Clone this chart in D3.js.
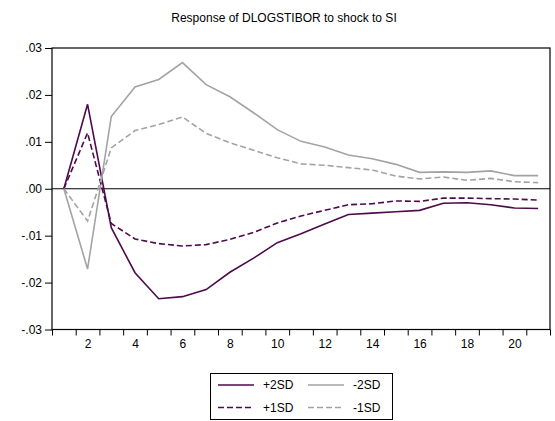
<!DOCTYPE html>
<html>
<head>
<meta charset="utf-8">
<script src="https://cdn.jsdelivr.net/npm/d3@7"></script>
<style>
  html, body { margin: 0; padding: 0; background: #fff; }
  svg { display: block; font-family: "Liberation Sans", Arial, sans-serif; }
</style>
</head>
<body>
<svg id="chart" width="555" height="421"></svg>
<script>
// Impulse response of DLOGSTIBOR to a shock to SI, with ±1 and ±2 SD bands
const periods = d3.range(1, 22);
const plus2SD = [0, 0.0180, -0.0083, -0.0179, -0.02345, -0.0230, -0.0215, -0.0178, -0.0148, -0.0115,
  -0.0096, -0.0075, -0.0055, -0.0052, -0.0049, -0.0046, -0.0031, -0.0030, -0.0034, -0.0041, -0.0042];
const plus1SD = [0, 0.0119, -0.0074, -0.0107, -0.0117, -0.0122, -0.0119, -0.0108, -0.0093, -0.0073,
  -0.0058, -0.0046, -0.0034, -0.0032, -0.0026, -0.0027, -0.0020, -0.0020, -0.0021, -0.0022, -0.0024];
const minus2SD = [0, -0.0171, 0.0154, 0.0217, 0.0233, 0.0269, 0.0222, 0.0196, 0.0162, 0.0126,
  0.0101, 0.0089, 0.0072, 0.0064, 0.0052, 0.0035, 0.0036, 0.0035, 0.0038, 0.0028, 0.0028];
const minus1SD = [0, -0.0069, 0.0087, 0.0124, 0.0137, 0.0153, 0.0118, 0.0098, 0.0082, 0.0066,
  0.0053, 0.0050, 0.0045, 0.0040, 0.0027, 0.0021, 0.0025, 0.0018, 0.0022, 0.0015, 0.0013];
const yTicks = [0.03, 0.02, 0.01, 0.00, -0.01, -0.02, -0.03];
const yTickLabels = [".03", ".02", ".01", ".00", "-.01", "-.02", "-.03"];
const xTickLabels = [2, 4, 6, 8, 10, 12, 14, 16, 18, 20];

const series = [
  { name: "+2SD", values: plus2SD, color: "#4d0a4d", dash: null },
  { name: "-2SD", values: minus2SD, color: "#a3a3a3", dash: null },
  { name: "+1SD", values: plus1SD, color: "#4d0a4d", dash: "6,3" },
  { name: "-1SD", values: minus1SD, color: "#a3a3a3", dash: "6,3" }
];

const svg = d3.select("#chart");
const plotLeft = 52, plotRight = 550, plotTop = 48, plotBottom = 329.5;
const fontFamily = "Liberation Sans, Arial, sans-serif";

const x = d3.scaleLinear().domain([0.5, 21.5]).range([plotLeft, plotRight]);
const y = d3.scaleLinear().domain([-0.03, 0.03]).range([plotBottom, plotTop]);

// title
svg.append("text")
  .attr("x", 284).attr("y", 22)
  .attr("text-anchor", "middle")
  .attr("font-size", 12)
  .text("Response of DLOGSTIBOR to shock to SI");

// y axis
const yAxis = d3.axisLeft(y)
  .tickValues(yTicks)
  .tickSize(7)
  .tickPadding(3)
  .tickFormat((d, i) => yTickLabels[i]);
const gy = svg.append("g").attr("transform", `translate(${plotLeft},0)`).call(yAxis);
gy.select(".domain").remove();
gy.selectAll("line").attr("stroke", "#000");
gy.selectAll("text").attr("font-size", 12).attr("fill", "#000")
  .attr("font-family", fontFamily);

// x axis: tick marks on period boundaries, labels on even periods
const boundaries = d3.range(0.5, 22, 1);
const xAxisTicks = d3.axisBottom(x).tickValues(boundaries).tickSize(6).tickFormat("");
const gx = svg.append("g").attr("transform", `translate(0,${plotBottom})`).call(xAxisTicks);
gx.select(".domain").remove();
gx.selectAll("line").attr("stroke", "#000");

const xAxisLabels = d3.axisBottom(x).tickValues(xTickLabels).tickSize(0).tickPadding(10);
const gxl = svg.append("g").attr("transform", `translate(0,${plotBottom})`).call(xAxisLabels);
gxl.select(".domain").remove();
gxl.selectAll("text").attr("font-size", 12).attr("fill", "#000")
  .attr("font-family", fontFamily);

// zero line
svg.append("line")
  .attr("x1", plotLeft).attr("x2", plotRight)
  .attr("y1", y(0)).attr("y2", y(0))
  .attr("stroke", "#000").attr("stroke-width", 1);

// response lines
const line = d3.line().x((d, i) => x(periods[i])).y(d => y(d));
series.forEach(s => {
  svg.append("path")
    .datum(s.values)
    .attr("d", line)
    .attr("fill", "none")
    .attr("stroke", s.color)
    .attr("stroke-width", 1.6)
    .attr("stroke-dasharray", s.dash);
});

// plot frame
svg.append("rect")
  .attr("x", plotLeft).attr("y", plotTop)
  .attr("width", plotRight - plotLeft).attr("height", plotBottom - plotTop)
  .attr("fill", "none").attr("stroke", "#000").attr("stroke-width", 1.2);

// legend
const legend = svg.append("g");
legend.append("rect")
  .attr("x", 210.5).attr("y", 373.5).attr("width", 182).attr("height", 46)
  .attr("fill", "#fff").attr("stroke", "#000").attr("stroke-width", 1);
const cols = [218, 308];
const rows = [385, 407.5];
series.forEach((s, i) => {
  const cx = cols[i % 2], cy = rows[Math.floor(i / 2)];
  legend.append("line")
    .attr("x1", cx).attr("x2", cx + 36)
    .attr("y1", cy).attr("y2", cy)
    .attr("stroke", s.color).attr("stroke-width", 1.6)
    .attr("stroke-dasharray", s.dash);
  legend.append("text")
    .attr("x", cx + 45).attr("y", cy + 4)
    .attr("font-size", 12)
    .text(s.name);
});
</script>
</body>
</html>
